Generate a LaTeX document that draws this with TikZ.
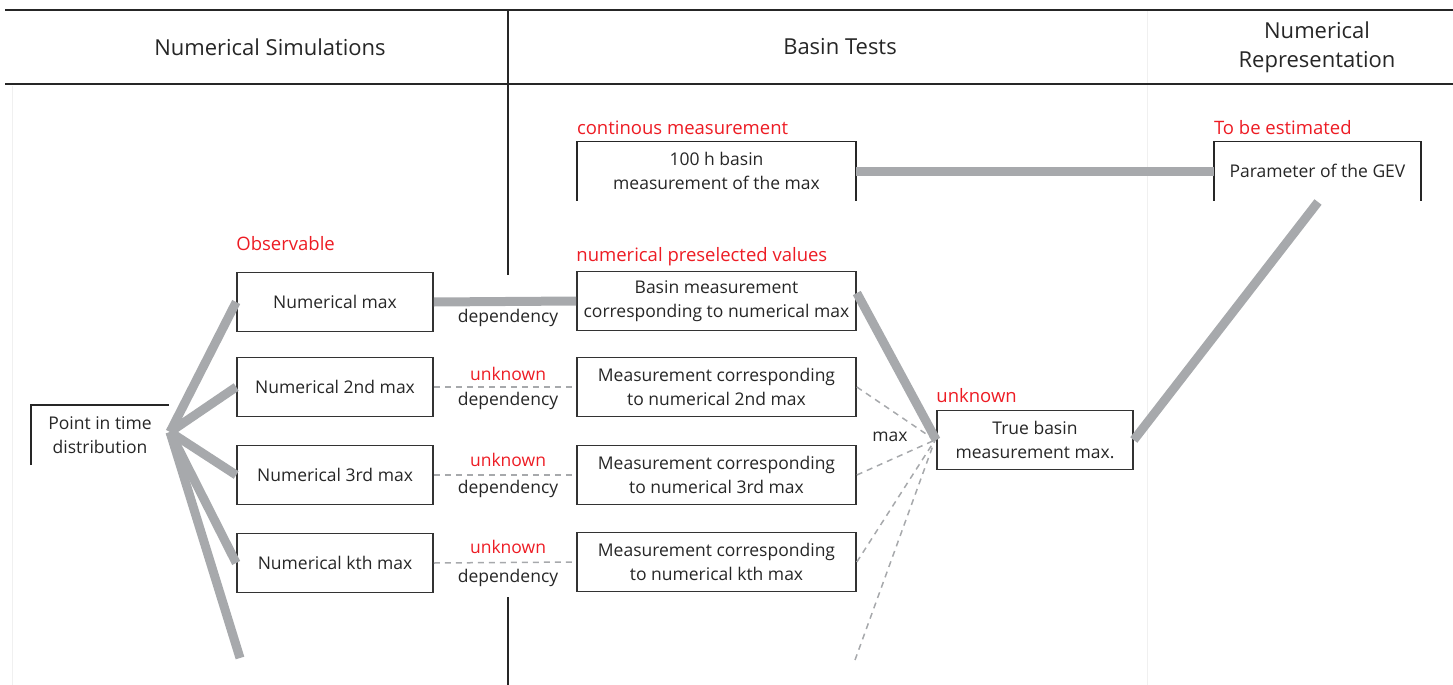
\documentclass[tikz,border=0pt]{standalone}
\usepackage{fontspec}
\setmainfont{Open Sans}
\begin{document}
\begin{tikzpicture}[x=1pt,y=-1pt,
  txt/.style={font=\fontsize{17.5}{24}\selectfont, text=black!85, align=center, inner sep=0pt},
  hdr/.style={txt, font=\fontsize{22}{29}\selectfont},
  redlbl/.style={font=\fontsize{18.5}{24}\selectfont, text={rgb,255:red,237;green,28;blue,36}, anchor=base west, inner sep=0pt},
  boxn/.style={txt, draw=black!80, line width=1.6pt, minimum height=59pt},
  openbox/.style={txt, minimum height=59pt},
  thick gray/.style={draw={rgb,255:red,167;green,169;blue,172}, line width=9pt},
  dash gray/.style={draw={rgb,255:red,167;green,169;blue,172}, line width=1.5pt, dash pattern=on 6pt off 5pt},
  rule/.style={draw=black!85, line width=2pt},
  faint/.style={draw=black!6, line width=1pt}
]
\useasboundingbox (0,0) rectangle (1453,685);
% header and column rules
\draw[faint] (12,86) -- (12,685);
\draw[faint] (1147,10) -- (1147,685);
\draw[rule] (5,10) -- (1453,10);
\draw[rule] (5,84) -- (1453,84);
\draw[rule] (508,10) -- (508,275);
\draw[rule] (508,597) -- (508,685);
\node[hdr] (hsim) at (270,47) {Numerical Simulations};
\node[hdr] (hbas) at (840,47) {Basin Tests};
\node[hdr] (hrep) at (1317,47) {Numerical\\Representation};

% left column
\node[openbox, minimum width=138pt, minimum height=60pt] (pit) at (100,435) {Point in time\\distribution};
\node[boxn, minimum width=196pt] (n1) at (335,302) {Numerical max};
\node[boxn, minimum width=196pt] (n2) at (335,387) {Numerical 2nd max};
\node[boxn, minimum width=196pt] (n3) at (335,475) {Numerical 3rd max};
\node[boxn, minimum width=196pt] (n4) at (335,563) {Numerical kth max};
\node[redlbl] (obs) at (n1.north west) [yshift=21pt] {Observable};

% middle column
\node[openbox, minimum width=279pt] (m0) at (716.5,171) {100 h basin\\measurement of the max};
\node[boxn, minimum width=279pt] (m1) at (716.5,301) {Basin measurement\\corresponding to numerical max};
\node[boxn, minimum width=279pt] (m2) at (716.5,387) {Measurement corresponding\\to numerical 2nd max};
\node[boxn, minimum width=279pt] (m3) at (716.5,475) {Measurement corresponding\\to numerical 3rd max};
\node[boxn, minimum width=279pt] (m4) at (716.5,562) {Measurement corresponding\\to numerical kth max};
\node[redlbl] (cm) at (m0.north west) [yshift=7pt] {continous measurement};
\node[redlbl] (npv) at (m1.north west) [yshift=9pt] {numerical preselected values};

% right
\node[boxn, minimum width=196pt] (tb) at (1035,440) {True basin\\measurement max.};
\node[redlbl] (unk) at (tb.north west) [yshift=7pt] {unknown};
\node[openbox, minimum width=207pt] (gev) at (1317.5,171) {Parameter of the GEV};
\node[redlbl] (tbe) at (gev.north west) [yshift=7pt] {To be estimated};

% partial borders
\draw[black!85, line width=1.6pt] (pit.south west) -- (pit.north west) -- (pit.north east);
\draw[black!85, line width=1.6pt] (m0.south west) -- (m0.north west) -- (m0.north east) -- (m0.south east);
\draw[black!85, line width=1.6pt] (gev.south west) -- (gev.north west) -- (gev.north east) -- (gev.south east);

% fan
\coordinate (fan) at (170,432);
\coordinate (fanend) at (240,658);
\coordinate (dashend) at (855,660);
\coordinate (conv) at (935,440);
\coordinate (gevlow) at (1318,202);
\draw[thick gray] (fan) -- (n1.west);
\draw[thick gray] (fan) -- (n2.west);
\draw[thick gray] (fan) -- (n3.west);
\draw[thick gray] (fan) -- (n4.west);
\draw[thick gray] (fan) -- (fanend);

% dependencies
\draw[thick gray] (n1.east) -- (m1.west);
\node[txt] (d1) at (508,318) {dependency};
\draw[dash gray] (n2.east) -- (m2.west);
\node[txt, text={rgb,255:red,237;green,28;blue,36}] (u2) at (508,374) {unknown};
\node[txt] (d2) at (508,401) {dependency};
\draw[dash gray] (n3.east) -- (m3.west);
\node[txt, text={rgb,255:red,237;green,28;blue,36}] (u3) at (508,460) {unknown};
\node[txt] (d3) at (508,489) {dependency};
\draw[dash gray] (n4.east) -- (m4.west);
\node[txt, text={rgb,255:red,237;green,28;blue,36}] (u4) at (508,547) {unknown};
\node[txt] (d4) at (508,578) {dependency};

% to true basin
\draw[thick gray] (m1.east) ++(0,-8) -- (tb.west);
\draw[dash gray] (m2.east) -- (conv);
\draw[dash gray] (m3.east) -- (conv);
\draw[dash gray] (m4.east) -- (conv);
\draw[dash gray] (dashend) -- (conv);
\node[txt] (mx) at (890,437) {max};

% to GEV
\draw[thick gray] (m0.east) -- (gev.west);
\draw[thick gray] (tb.east) -- (gevlow);
\end{tikzpicture}
\end{document}
